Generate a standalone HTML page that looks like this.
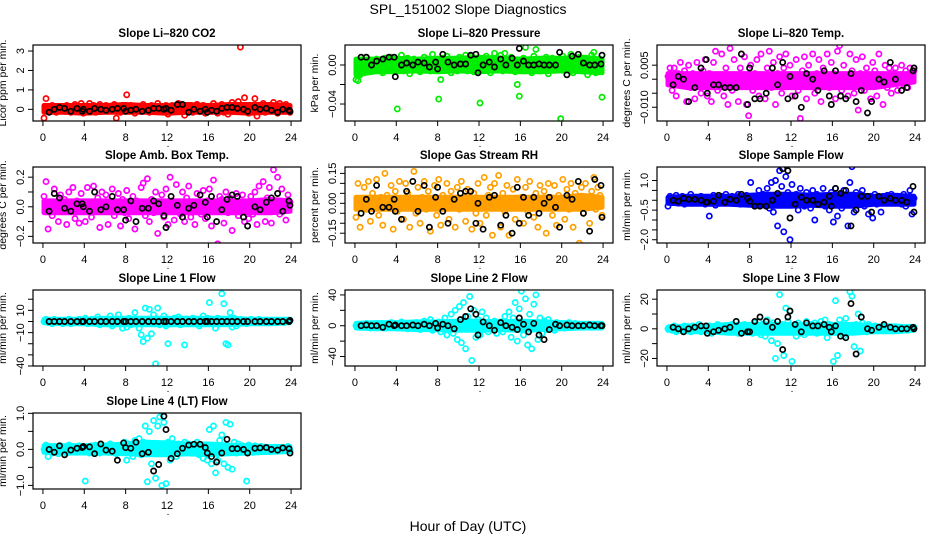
<!DOCTYPE html>
<html><head><meta charset="utf-8"><style>
html,body{margin:0;padding:0;background:#fff;}
svg{display:block;font-family:"Liberation Sans",sans-serif;}
</style></head><body>
<svg id="chart" width="936" height="540" viewBox="0 0 936 540">
<text x="468" y="14" text-anchor="middle" font-size="14">SPL_151002  Slope Diagnostics</text>
<text x="468" y="531" text-anchor="middle" font-size="14">Hour of Day (UTC)</text>
</svg>
<script>
const hoursColor=[0.1,0.3,0.5,0.7,0.9,1.1,1.3,1.5,1.7,1.9,2.1,2.3,2.5,2.7,2.9,3.1,3.3,3.5,3.7,3.9,4.1,4.3,4.5,4.7,4.9,5.1,5.3,5.5,5.7,5.9,6.1,6.3,6.5,6.7,6.9,7.1,7.3,7.5,7.7,7.9,8.1,8.3,8.5,8.7,8.9,9.1,9.3,9.5,9.7,9.9,10.1,10.3,10.5,10.7,10.9,11.1,11.3,11.5,11.7,11.9,12.1,12.3,12.5,12.7,12.9,13.1,13.3,13.5,13.7,13.9,14.1,14.3,14.5,14.7,14.9,15.1,15.3,15.5,15.7,15.9,16.1,16.3,16.5,16.7,16.9,17.1,17.3,17.5,17.7,17.9,18.1,18.3,18.5,18.7,18.9,19.1,19.3,19.5,19.7,19.9,20.1,20.3,20.5,20.7,20.9,21.1,21.3,21.5,21.7,21.9,22.1,22.3,22.5,22.7,22.9,23.1,23.3,23.5,23.7,23.9];
const hoursBlack=[0.6,1.1,1.6,2.1,2.7,3.3,3.8,3.9,4.5,5.0,5.6,6.1,6.7,7.2,7.8,8.0,8.5,9.0,9.6,10.2,10.7,11.2,11.7,11.9,12.4,13.0,13.5,14.1,14.6,15.2,15.7,15.9,16.3,16.8,17.3,17.8,18.3,18.8,19.4,19.8,20.5,21.0,21.6,22.1,22.7,23.2,23.8,23.9];
const bandHours=[0.1,2,4,6,8,10,12,14,16,18,20,22,23.9];
const xTicks=[0,4,8,12,16,20,24];

const co2Vals=[-0.45,0.55,0.1,-0.1,0.2,0.05,-0.15,0.15,0.0,0.1,-0.1,0.2,0.05,-0.15,0.1,0.25,-0.05,0.1,0.3,-0.2,0.15,-0.1,0.3,0.0,0.2,-0.15,0.1,0.25,-0.1,0.05,0.2,-0.1,0.15,0.0,0.25,-0.45,0.1,-0.15,0.2,0.05,0.75,-0.1,0.2,0.0,-0.2,0.15,0.1,-0.1,0.25,0.0,0.1,-0.15,0.2,0.05,-0.1,0.3,0.0,0.15,-0.1,0.2,-0.25,0.1,0.2,-0.05,0.15,0.3,-0.1,0.05,-0.3,0.2,0.0,0.2,-0.15,0.1,0.25,-0.1,0.05,0.2,-0.2,0.1,0.15,-0.1,0.3,0.0,-0.2,0.1,0.25,-0.15,0.05,-0.25,0.2,0.35,-0.1,0.1,0.4,3.2,-0.05,0.6,0.0,-0.2,0.15,-0.1,0.55,-0.35,0.2,0.0,0.3,-0.15,0.1,0.2,-0.1,0.35,0.05,-0.2,0.3,0.1,-0.1,0.25,0.0,-0.15];
const co2Black=[-0.15,0.0,0.1,0.05,-0.1,0.05,-0.1,0.0,-0.1,0.05,0.0,-0.05,0.0,0.05,0.05,-0.1,-0.05,0.0,-0.1,-0.05,0.05,0.05,0.0,0.05,-0.05,0.25,0.25,-0.15,0.0,-0.1,0.0,-0.15,-0.05,-0.1,0.05,0.1,0.1,0.05,0.0,-0.1,0.1,0.0,0.05,-0.05,-0.15,0.0,-0.05,-0.1];
const co2BandLo=[-0.15,-0.15,-0.2,-0.15,-0.15,-0.15,-0.2,-0.15,-0.15,-0.15,-0.2,-0.15,-0.15];
const co2BandHi=[0.2,0.2,0.2,0.2,0.25,0.2,0.2,0.25,0.2,0.25,0.25,0.25,0.2];

const presVals=[-0.015,-0.016,-0.01,0.005,-0.005,0.008,0.0,-0.006,0.004,-0.003,0.006,-0.004,0.002,-0.008,0.007,0.0,-0.005,0.008,0.003,-0.006,-0.045,0.004,0.01,-0.006,0.003,0.007,-0.009,0.001,0.006,-0.004,0.005,-0.007,0.002,0.008,-0.003,0.006,-0.006,0.011,0.002,-0.005,-0.035,-0.015,0.007,-0.004,0.009,0.0,-0.008,0.005,0.002,-0.006,0.008,-0.003,0.005,0.01,-0.006,0.002,0.009,-0.007,0.004,0.0,-0.039,0.006,-0.005,0.009,0.001,-0.008,0.007,0.012,-0.003,0.005,0.01,-0.006,0.012,0.002,-0.004,0.008,0.0,-0.007,-0.02,-0.032,0.005,0.007,0.018,-0.005,0.003,-0.008,0.009,0.016,0.001,-0.006,0.006,-0.004,0.008,-0.009,0.003,0.007,-0.005,0.002,0.0,-0.055,0.009,-0.005,0.004,0.0,0.011,-0.008,0.006,-0.003,0.008,0.002,-0.006,0.007,-0.01,0.004,0.01,0.013,-0.008,0.002,0.006,-0.033];
const presBlack=[0.008,0.008,0.0,0.004,0.006,0.008,0.008,-0.012,0.0,0.002,0.0,0.003,0.002,-0.002,0.003,-0.004,0.011,0.003,0.0,0.001,0.001,0.01,0.011,-0.008,0.0,0.003,-0.002,0.006,0.0,0.007,0.0,0.017,0.004,0.0,0.0,0.001,0.0,0.0,0.0,0.013,-0.01,0.009,0.011,0.002,0.0,0.0,0.001,0.01];
const presBandLo=[-0.01,-0.007,-0.007,-0.006,-0.007,-0.006,-0.007,-0.006,-0.007,-0.007,-0.006,-0.007,-0.008];
const presBandHi=[0.006,0.006,0.007,0.006,0.007,0.007,0.008,0.007,0.006,0.007,0.007,0.008,0.006];

const tempVals=[0.001,0.004,-0.004,0.004,-0.006,0.002,0.006,-0.002,0.003,-0.008,0.005,-0.003,0.002,-0.007,0.006,0.0,-0.005,0.003,0.007,-0.006,0.002,-0.008,0.006,0.01,-0.004,0.001,0.009,-0.006,0.004,-0.009,0.011,-0.004,0.007,0.001,-0.008,0.004,-0.002,0.008,-0.009,-0.013,0.005,-0.004,0.002,0.007,-0.006,0.009,0.0,-0.007,0.004,0.01,-0.003,0.006,-0.009,0.002,0.008,-0.005,0.004,0.009,-0.002,0.005,-0.006,0.001,0.007,-0.004,-0.014,0.003,0.008,-0.007,0.005,0.0,0.009,-0.005,0.002,0.007,-0.008,0.004,0.0,0.009,-0.003,0.006,0.002,-0.007,0.01,0.012,-0.004,0.005,0.001,-0.006,0.009,0.003,-0.005,0.007,-0.011,0.002,0.008,-0.004,0.004,0.0,-0.007,0.006,0.003,-0.006,0.009,0.001,-0.009,0.005,-0.003,0.004,-0.005,0.002,0.004,-0.004,0.001,0.005,-0.002,0.003,-0.003,0.004,0.002,0.003];
const tempBlack=[-0.002,0.001,0.0,-0.008,-0.003,0.004,0.007,-0.005,-0.002,-0.002,-0.003,-0.003,-0.003,0.009,-0.009,0.004,-0.007,-0.007,-0.005,0.004,-0.002,0.006,-0.007,0.001,-0.006,-0.01,0.002,0.0,-0.004,0.003,-0.006,-0.009,0.003,-0.006,-0.007,0.002,-0.008,-0.004,-0.012,-0.008,0.0,-0.001,0.006,0.0,-0.004,-0.003,0.003,0.004];
const tempBandLo=[-0.002,-0.003,-0.003,-0.003,-0.003,-0.003,-0.003,-0.003,-0.003,-0.003,-0.003,-0.002,-0.001];
const tempBandHi=[0.002,0.002,0.002,0.002,0.002,0.002,0.002,0.002,0.002,0.002,0.002,0.002,0.002];

const ambVals=[0.07,0.17,-0.15,0.03,-0.06,0.12,0.0,-0.1,0.08,-0.03,0.05,-0.12,0.1,-0.02,0.13,-0.08,0.04,-0.11,0.09,0.0,-0.1,0.13,0.02,-0.07,0.14,-0.03,0.06,-0.14,0.1,-0.01,0.08,-0.12,0.03,0.12,-0.06,0.0,0.09,-0.13,0.05,-0.04,0.11,-0.08,0.02,0.07,-0.15,0.04,-0.02,0.13,0.16,-0.06,0.19,-0.1,0.05,-0.04,0.1,-0.18,0.02,0.08,-0.07,0.12,-0.12,0.2,0.04,-0.09,0.15,0.0,-0.05,0.1,-0.1,0.06,0.14,-0.07,0.03,-0.12,0.09,0.01,-0.05,0.11,-0.08,0.04,0.12,-0.13,0.18,-0.03,-0.25,0.07,0.05,-0.11,0.1,-0.04,0.06,-0.16,0.02,0.09,-0.06,0.03,0.08,-0.1,0.01,-0.08,0.07,-0.05,0.1,-0.12,0.14,-0.02,0.17,-0.1,0.06,0.13,-0.11,0.25,0.04,0.2,-0.05,0.12,0.0,-0.09,0.08,0.03];
const ambBlack=[-0.03,0.09,0.06,-0.01,-0.03,0.02,0.02,0.0,-0.03,0.1,-0.02,0.0,0.07,-0.02,-0.02,-0.09,0.04,-0.1,-0.01,-0.01,0.04,0.02,-0.06,-0.14,0.07,0.01,-0.07,-0.01,0.01,0.08,0.03,-0.07,0.07,-0.1,-0.02,0.05,0.08,0.07,-0.07,-0.13,0.0,-0.02,0.03,0.06,0.09,-0.03,0.04,0.01];
const ambBandLo=[-0.04,-0.04,-0.04,-0.04,-0.04,-0.04,-0.04,-0.04,-0.04,-0.04,-0.04,-0.04,-0.03];
const ambBandHi=[0.04,0.04,0.04,0.04,0.04,0.04,0.04,0.04,0.04,0.04,0.04,0.05,0.04];

const rhVals=[-0.07,0.1,-0.12,0.02,0.08,-0.03,0.11,-0.09,0.05,0.0,0.12,-0.06,0.03,-0.11,0.15,0.04,-0.02,0.09,-0.13,0.06,-0.04,0.11,0.0,-0.08,0.1,0.05,-0.12,0.02,0.16,-0.05,0.08,-0.1,0.03,0.11,-0.03,0.06,-0.14,0.0,0.09,-0.06,0.12,-0.11,0.04,-0.02,0.1,-0.08,0.06,0.01,-0.12,0.08,-0.03,0.11,0.0,-0.09,0.07,0.03,-0.13,0.05,-0.05,0.1,-0.1,0.02,0.13,-0.06,0.04,0.08,-0.16,0.1,-0.02,0.14,-0.12,0.05,-0.04,0.09,-0.16,0.02,0.07,-0.08,0.12,0.0,0.03,-0.1,0.08,-0.04,0.11,0.0,-0.07,0.05,-0.12,0.09,-0.02,0.06,-0.15,0.1,0.03,-0.06,0.09,-0.11,0.04,0.0,0.12,-0.08,0.07,-0.03,0.1,-0.12,0.05,0.02,-0.2,0.08,-0.05,0.1,0.0,-0.1,0.06,0.13,-0.03,0.08,0.04,-0.06];
const rhBlack=[-0.05,0.02,-0.04,0.09,-0.02,-0.02,0.02,-0.04,-0.08,0.06,0.11,-0.04,0.09,-0.12,0.03,0.08,-0.04,-0.1,0.02,0.05,0.06,0.06,-0.1,0.0,-0.13,0.03,0.04,-0.11,-0.06,-0.15,0.08,-0.1,0.03,-0.06,0.03,-0.05,0.0,0.03,-0.02,-0.12,0.04,0.02,0.11,-0.05,-0.14,0.12,0.09,-0.07];
const rhBandLo=[-0.03,-0.03,-0.03,-0.03,-0.03,-0.03,-0.03,-0.03,-0.03,-0.03,-0.03,-0.03,-0.02];
const rhBandHi=[0.03,0.03,0.03,0.03,0.03,0.03,0.03,0.03,0.03,0.03,0.03,0.04,0.03];

const sampleVals=[-0.3,0.2,-0.1,0.1,0.25,-0.15,0.05,0.2,-0.2,0.1,0.0,0.3,-0.15,0.1,0.15,-0.1,0.2,0.05,-0.2,0.15,-0.8,0.1,0.25,-0.25,0.15,0.0,0.2,-0.1,0.3,0.05,-0.15,0.2,0.1,-0.05,0.3,-0.2,0.15,0.0,0.25,-0.1,0.9,0.2,-0.3,0.1,0.5,-0.2,0.3,0.05,0.6,-0.4,0.9,-0.6,1.0,-1.3,1.5,0.7,-1.6,1.2,0.4,-2.0,0.8,-0.2,0.3,-0.5,0.6,0.1,-0.3,0.4,0.0,-0.4,0.5,-1.0,0.3,-0.2,0.2,0.6,-0.3,0.1,-0.5,0.4,-1.1,0.6,-0.8,0.3,-0.4,0.5,0.2,-1.3,0.9,1.7,-0.6,0.4,-0.2,0.3,0.5,-0.3,0.1,-0.7,0.2,-0.9,0.3,-0.2,0.15,-0.6,0.2,0.0,0.25,-0.1,0.3,0.05,-0.15,0.2,0.1,-0.2,0.3,-0.3,0.15,0.5,-0.7,0.1];
const sampleBlack=[0.0,-0.05,0.1,0.05,0.05,0.0,-0.1,-0.1,-0.05,0.25,-0.1,0.05,0.0,0.3,0.1,-0.05,-0.3,-0.3,-0.3,0.0,0.35,1.6,1.5,-0.9,-0.2,0.15,0.0,0.0,-0.2,-0.1,0.2,-0.3,0.6,0.35,0.5,-1.3,-0.5,0.2,0.2,-0.6,0.2,0.0,0.1,0.0,0.0,-0.1,0.7,-0.6];
const sampleBandLo=[-0.15,-0.2,-0.2,-0.2,-0.25,-0.3,-0.3,-0.25,-0.3,-0.3,-0.2,-0.2,-0.2];
const sampleBandHi=[0.15,0.2,0.2,0.2,0.25,0.3,0.3,0.25,0.3,0.3,0.2,0.25,0.2];

const line1Vals=[0,2,-1,1,-2,2,0,-1,1,-2,1,-1,2,-2,0,1,-1,2,0,-1,3,-2,1,2,-1,0,4,-3,1,2,-2,1,5,-4,2,0,6,-2,-6,1,-5,3,-3,-1,8,2,-6,-12,-18,12,-15,11,-11,6,-38,12,-3,2,5,-4,-20,1,-2,3,-1,4,-3,0,-21,2,1,-2,3,-1,2,-4,1,5,-2,3,17,-1,2,-6,3,1,25,16,-20,-21,8,-5,3,-4,0,2,-1,1,-2,0,2,-1,1,0,2,-1,1,0,-1,1,0,1,-1,0,1,0,-1,1,0,1];
const line1Black=[0,0,0,0,0,0,0,0,0,0,0,0,0,0,0,0,0,0,0,0,0,0,0,0,0,0,0,0,0,0,0,0,0,0,0,0,0,0,0,0,0,0,0,0,0,0,0,1];
const line1BandLo=[-1,-2,-2,-3,-3,-3,-3,-3,-3,-3,-2,-2,-1];
const line1BandHi=[2,2,2,3,3,3,3,3,3,3,2,2,2];

const line2Vals=[0,2,-2,1,-1,3,0,-3,2,-1,1,-2,3,0,-3,2,-1,4,-2,1,-3,2,5,-2,1,-4,3,0,-2,4,2,-5,1,6,-3,0,8,-6,3,-2,5,-8,2,10,-12,4,15,-10,20,-18,25,-22,30,-30,12,38,-45,20,-15,8,-12,18,-5,10,-8,4,-3,6,-10,2,5,-8,12,-4,18,-15,10,30,-20,22,45,-12,35,-25,15,-30,28,40,-18,10,-10,6,-5,8,-3,2,-6,4,0,-2,2,-3,1,4,-2,0,3,-1,2,-2,1,-1,2,0,-2,1,0,2,-1,1];
const line2Black=[0,1,0,0,-2,2,0,1,0,0,1,0,2,0,3,-3,2,0,-4,8,12,22,15,-12,5,0,-6,4,0,-2,-5,10,2,-8,3,-12,-18,-5,2,0,1,0,0,0,1,0,0,0];
const line2BandLo=[-3,-4,-4,-5,-5,-6,-6,-5,-6,-5,-4,-3,-3];
const line2BandHi=[3,4,4,5,5,6,6,5,6,5,4,3,3];

const line3Vals=[0,1,-1,2,-2,1,0,-1,2,-1,1,-2,2,0,-1,3,-2,1,0,-1,2,-3,1,0,3,-2,1,-1,2,0,-2,3,-1,5,-3,1,0,3,-2,1,2,-3,4,-2,5,-4,3,-5,6,-2,-8,4,-20,-10,23,3,-18,14,5,12,-22,2,-5,4,-3,1,-4,5,0,3,-2,4,-3,2,5,-2,6,-6,3,0,-22,19,-18,6,3,-5,7,2,25,22,-12,3,10,-15,4,0,-2,3,-1,1,2,-1,1,0,2,-1,1,0,-1,1,0,1,-1,0,1,0,-1,1,0,1];
const line3Black=[1,0,-2,0,1,2,2,-3,-2,-1,0,1,5,-3,-2,-2,5,8,5,1,5,-14,8,12,3,-2,4,2,2,3,1,-2,2,-5,-6,17,-17,8,0,-1,1,3,1,0,0,0,1,0];
const line3BandLo=[-1,-2,-2,-3,-3,-3,-3,-3,-3,-3,-2,-2,-1];
const line3BandHi=[1,2,2,3,3,3,3,3,3,3,2,2,1];

const line4Vals=[0.0,0.12,-0.2,0.05,-0.1,0.08,0.0,-0.12,0.1,-0.05,0.06,-0.1,0.12,-0.04,0.08,0.0,-0.08,0.1,-0.06,0.03,-0.88,0.05,-0.1,0.1,-0.05,0.12,0.0,-0.1,0.08,-0.03,0.1,-0.08,0.15,-0.05,0.06,-0.12,0.1,0.0,-0.08,0.2,-0.3,0.15,0.05,-0.2,0.25,-0.1,0.3,-0.15,0.2,0.65,-0.9,0.5,-0.4,0.8,-0.8,0.65,0.9,-1.0,0.75,-0.95,0.2,-0.3,0.3,0.1,-0.2,0.15,0.0,-0.1,0.2,-0.05,0.15,-0.1,0.1,0.0,0.2,-0.15,0.1,-0.25,0.05,-0.3,0.55,-0.4,0.65,-0.65,-0.3,0.25,0.4,-0.4,0.75,-0.5,0.7,-0.55,0.2,-0.1,0.15,-0.05,0.1,0.0,-0.88,0.12,0.05,-0.08,0.1,0.0,-0.05,0.08,-0.02,0.05,0.0,-0.06,0.04,-0.05,0.06,0.0,0.03,-0.04,0.05,0.0,0.08,-0.03];
const line4Black=[0.0,-0.08,0.1,-0.15,-0.02,0.03,0.05,0.08,0.07,-0.12,0.15,-0.02,-0.05,-0.3,0.18,0.05,0.03,0.2,-0.12,-0.08,-0.6,-0.42,0.92,0.55,-0.25,-0.12,0.03,0.12,0.14,0.14,0.05,-0.1,-0.2,-0.35,-0.1,0.28,0.02,0.02,0.0,-0.1,0.03,0.04,0.05,0.0,-0.02,0.04,0.02,-0.1];
const line4BandLo=[-0.08,-0.1,-0.1,-0.1,-0.12,-0.15,-0.15,-0.12,-0.15,-0.12,-0.1,-0.08,-0.06];
const line4BandHi=[0.1,0.1,0.1,0.12,0.15,0.2,0.18,0.15,0.15,0.12,0.1,0.08,0.08];

const panels=[
 {name:'co2',col:0,row:0,title:'Slope Li\u2013820 CO2',ylab:'Licor ppm per min.',ylim:[-0.6,3.31],ticks:[0,1,2,3],labels:['0','1','2','3'],color:'#ff0000',vals:co2Vals,black:co2Black,lo:co2BandLo,hi:co2BandHi},
 {name:'pressure',col:1,row:0,title:'Slope Li\u2013820 Pressure',ylab:'kPa per min.',ylim:[-0.0574,0.0205],ticks:[-0.04,-0.02,0.0],labels:['\u22120.04','','0.00'],color:'#00ee00',vals:presVals,black:presBlack,lo:presBandLo,hi:presBandHi},
 {name:'li820-temp',col:2,row:0,title:'Slope Li\u2013820 Temp.',ylab:'degrees C per min.',ylim:[-0.0149,0.0122],ticks:[-0.01,-0.005,0,0.005],labels:['\u22120.010','','','0.005'],color:'#ff00ff',vals:tempVals,black:tempBlack,lo:tempBandLo,hi:tempBandHi},
 {name:'amb-box-temp',col:0,row:1,title:'Slope Amb. Box Temp.',ylab:'degrees C per min.',ylim:[-0.2447,0.2688],ticks:[-0.2,-0.1,0,0.1,0.2],labels:['\u22120.2','','0.0','','0.2'],color:'#ff00ff',vals:ambVals,black:ambBlack,lo:ambBandLo,hi:ambBandHi},
 {name:'gas-stream-rh',col:1,row:1,title:'Slope Gas Stream RH',ylab:'percent per min.',ylim:[-0.199,0.182],ticks:[-0.15,-0.1,-0.05,0,0.05,0.1,0.15],labels:['\u22120.15','','','0.00','','','0.15'],color:'#ffa000',vals:rhVals,black:rhBlack,lo:rhBandLo,hi:rhBandHi},
 {name:'sample-flow',col:2,row:1,title:'Slope Sample Flow',ylab:'ml/min per min.',ylim:[-2.165,1.685],ticks:[-2,-1.5,-1,-0.5,0,0.5,1],labels:['\u22122.0','','','\u22120.5','','','1.0'],color:'#0000ff',vals:sampleVals,black:sampleBlack,lo:sampleBandLo,hi:sampleBandHi},
 {name:'line1-flow',col:0,row:2,title:'Slope Line 1 Flow',ylab:'ml/min per min.',ylim:[-40,28.3],ticks:[-40,-30,-20,-10,0,10,20],labels:['\u221240','','','\u221210','','10',''],color:'#00ffff',vals:line1Vals,black:line1Black,lo:line1BandLo,hi:line1BandHi},
 {name:'line2-flow',col:1,row:2,title:'Slope Line 2 Flow',ylab:'ml/min per min.',ylim:[-52.3,46.4],ticks:[-40,-20,0,20,40],labels:['\u221240','','0','','40'],color:'#00ffff',vals:line2Vals,black:line2Black,lo:line2BandLo,hi:line2BandHi},
 {name:'line3-flow',col:2,row:2,title:'Slope Line 3 Flow',ylab:'ml/min per min.',ylim:[-25.1,26.2],ticks:[-20,-10,0,10,20],labels:['\u221220','','0','','20'],color:'#00ffff',vals:line3Vals,black:line3Black,lo:line3BandLo,hi:line3BandHi},
 {name:'line4-flow',col:0,row:3,title:'Slope Line 4 (LT) Flow',ylab:'ml/min per min.',ylim:[-1.1,1.01],ticks:[-1,-0.5,0,0.5,1],labels:['\u22121.0','','0.0','','1.0'],color:'#00ffff',vals:line4Vals,black:line4Black,lo:line4BandLo,hi:line4BandHi}
];

const NS='http://www.w3.org/2000/svg';
const svg=document.getElementById('chart');
function mk(tag,attrs,parent){const e=document.createElementNS(NS,tag);for(const k in attrs)e.setAttribute(k,attrs[k]);parent.appendChild(e);return e;}
const colLeft=[33,345,657], rowTop=[45,167,290,413], BW=268, BH=76;

panels.forEach(p=>{
  const L=colLeft[p.col], T=rowTop[p.row], R=L+BW, B=T+BH;
  const g=mk('g',{},svg);
  
  
  const xs=h=>L+(h+0.96)/25.92*BW;
  const ys=v=>B-(v-p.ylim[0])/(p.ylim[1]-p.ylim[0])*BH;
  const t=mk('text',{x:(L+R)/2,y:T-8,'text-anchor':'middle','font-size':'11.5','font-weight':'bold'},g);
  t.textContent=p.title;
  
  
  const cx=L-27, cy=(T+B)/2;
  const yl=mk('text',{x:cx,y:cy,'text-anchor':'middle','font-size':'10.5',transform:`rotate(-90 ${cx} ${cy})`},g);
  yl.textContent=p.ylab;
  
  
  const clip=mk('clipPath',{id:'clip-'+p.name},g);
  mk('rect',{x:L,y:T,width:BW,height:BH},clip);
  const pts=mk('g',{fill:'none','stroke-width':'1.7','clip-path':'url(#clip-'+p.name+')'},g);
  
  
  const top=bandHours.map((h,i)=>xs(h).toFixed(1)+','+ys(p.hi[i]).toFixed(1));
  const bot=bandHours.map((h,i)=>xs(h).toFixed(1)+','+ys(p.lo[i]).toFixed(1)).reverse();
  const band=mk('polygon',{points:top.concat(bot).join(' '),fill:p.color,stroke:p.color,'stroke-width':'5','stroke-linejoin':'round'},pts);
  
  
  p.vals.forEach((v,i)=>{
    const c=mk('circle',{cx:xs(hoursColor[i]).toFixed(1),cy:ys(v).toFixed(1),r:2.6,stroke:p.color},pts);
    
    
  });
  p.black.forEach((v,i)=>{
    const c=mk('circle',{cx:xs(hoursBlack[i]).toFixed(1),cy:ys(v).toFixed(1),r:2.6,stroke:'#000'},pts);
    
    
  });
  const fr=mk('rect',{x:L,y:T,width:BW,height:BH,fill:'none',stroke:'#000','stroke-width':'1.2'},g);
  
  
  xTicks.forEach(h=>{
    const x=xs(h);
    mk('line',{x1:x,y1:B,x2:x,y2:B+5,stroke:'#000'},g);
    const tl=mk('text',{x:x,y:B+20,'text-anchor':'middle','font-size':'11'},g);
    tl.textContent=h;
    
    
  });
  const dot=mk('text',{x:xs(12)+1,y:B+26,'text-anchor':'middle','font-size':'10'},g);
  dot.textContent='.';
  p.ticks.forEach((v,i)=>{
    const y=ys(v);
    mk('line',{x1:L-5,y1:y,x2:L,y2:y,stroke:'#000'},g);
    if(p.labels[i]){
      const lx=L-9;
      const tl=mk('text',{x:lx,y:y,'text-anchor':'middle','font-size':'11',transform:`rotate(-90 ${lx} ${y})`},g);
      tl.textContent=p.labels[i];
      
      
    }
  });
});
</script>
</body></html>
